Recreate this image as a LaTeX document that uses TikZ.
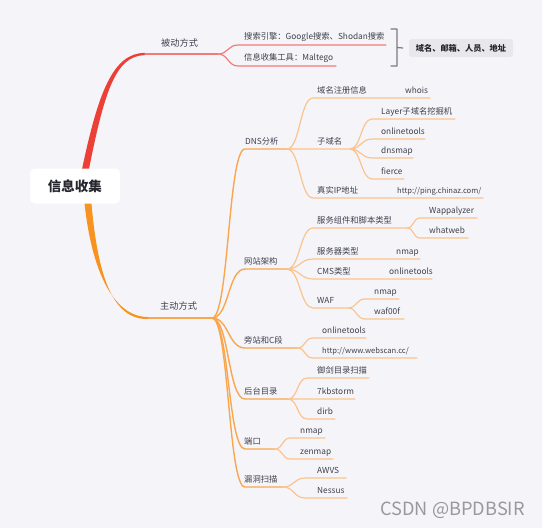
\documentclass[tikz,border=0pt]{standalone}
\usepackage{fontspec}
\setmainfont{Noto Sans CJK SC}
\usetikzlibrary{calc}
\definecolor{bg}{HTML}{F5F5F9}
\definecolor{ink}{HTML}{3F3F4E}
\definecolor{inkdark}{HTML}{26262F}
\definecolor{redtrk}{HTML}{EC3F35}
\definecolor{redln}{HTML}{F27B79}
\definecolor{ortrk}{HTML}{F7931E}
\definecolor{orln}{HTML}{F9A64F}
\definecolor{orlt}{HTML}{FBC38E}
\definecolor{sumfill}{HTML}{E7E7EC}
\definecolor{brk}{HTML}{7A7A80}
\tikzset{
  lbl/.style={anchor=base west, inner sep=0pt, text=ink},
  urllbl/.style={lbl, font=\fontsize{7.6}{9}\selectfont},
  lvone/.style={lbl, font=\fontsize{9.2}{11}\selectfont},
  pasln/.style={draw=redln, line width=1.4pt},
  lvtwo/.style={draw=orln, line width=1.4pt},
  lvthree/.style={draw=orlt, line width=1.2pt},
  link/.style={to path={.. controls +(#1,0) and +(-#1,0) .. (\tikztotarget)}},
  link/.default=12,
  rootbox/.style={fill=white, rounded corners=5pt, minimum width=90pt, minimum height=35pt, inner sep=0pt,
    text=inkdark, font=\bfseries\fontsize{13.5}{16}\selectfont},
  sumbox/.style={fill=sumfill, rounded corners=3pt, minimum width=104pt, minimum height=18pt, inner sep=0pt,
    text=inkdark, font=\bfseries\fontsize{8.2}{10}\selectfont}
}
\begin{document}
\begin{tikzpicture}[x=1pt,y=-1pt,line join=round,line cap=round,font=\fontsize{8.3}{10}\selectfont]
\fill[bg] (0,0) rectangle (542,528);
\useasboundingbox (0,0) rectangle (542,528);
\coordinate (rc) at (75,186);
% passive side
\coordinate (pas-a) at (145,54); \coordinate (pas-b) at (218,54);
\coordinate (se-a) at (238,45); \coordinate (se-b) at (386,45);
\coordinate (mt-a) at (238,66); \coordinate (mt-b) at (336,66);
\fill[redtrk] ($(rc)+(6,-12)$) .. controls (98,92) and (113,52.9) .. ($(pas-a)+(0,-1.1)$)
  -- ($(pas-a)+(0,1.1)$) .. controls (115,55.5) and (104,93) .. ($(rc)+(13,-12)$) -- cycle;
\draw[pasln] (pas-a) -- (pas-b);
\draw[pasln,line width=1.2pt] (pas-b) to[link=10] (se-a) -- (se-b)
  (pas-b) to[link=10] (mt-a) -- (mt-b);
\node[lvone] (pas) at (161,46) {被动方式};
\node[lbl] (se) at (244,39.5) {搜索引擎：Google搜索、Shodan搜索};
\node[lbl] (mt) at (244,60.5) {信息收集工具：Maltego};
\node[sumbox] (sum) at (461,48) {域名、邮箱、人员、地址};
\draw[brk,line width=1.2pt] (391,29) -| (397,66) -- (391,66)
  (397,47.5) -- ($(sum.west)+(-6,0)$);
% active side
\coordinate (act-a) at (148,318); \coordinate (act-b) at (212,318);
\fill[ortrk] ($(rc)+(9,12)$) .. controls (91,272) and (114,317.1) .. ($(act-a)+(0,-1)$)
  -- ($(act-a)+(0,1)$) .. controls (111,320) and (97,272) .. ($(rc)+(16,12)$) -- cycle;
\draw[lvtwo] (act-a) -- (act-b);
\node[lvone] (act) at (160,309.5) {主动方式};
% DNS
\coordinate (dns-a) at (245,149); \coordinate (dns-b) at (287,149);
\draw[lvtwo] (act-b) to[link=17] (dns-a) -- (dns-b);
\node[lbl] (dns) at (245,144) {DNS分析};
\coordinate (reg-a) at (313,98); \coordinate (reg-b) at (430,98);
\coordinate (sub-a) at (313,149); \coordinate (sub-b) at (350,149);
\coordinate (ip-a) at (313,198); \coordinate (ip-b) at (483,198);
\draw[lvthree] (dns-b) to[link=13] (reg-a) -- (reg-b)
  (dns-b) to[link=13] (sub-a) -- (sub-b)
  (dns-b) to[link=13] (ip-a) -- (ip-b);
\node[lbl] (reg) at (317,93) {域名注册信息};
\node[lbl] (whois) at (405,93) {whois};
\node[lbl] (sub) at (317,144) {子域名};
\node[lbl] (ip) at (317,193) {真实IP地址};
\node[urllbl] (ping) at (397,193) {http://ping.chinaz.com/};
\coordinate (layer-a) at (372,119); \coordinate (layer-b) at (455,119);
\coordinate (ota-a) at (372,139); \coordinate (ota-b) at (425,139);
\coordinate (dnsmap-a) at (372,158); \coordinate (dnsmap-b) at (413,158);
\coordinate (fierce-a) at (372,179); \coordinate (fierce-b) at (404,179);
\draw[lvthree] (sub-b) to[link=11] (layer-a) -- (layer-b)
  (sub-b) to[link=11] (ota-a) -- (ota-b)
  (sub-b) to[link=11] (dnsmap-a) -- (dnsmap-b)
  (sub-b) to[link=11] (fierce-a) -- (fierce-b);
\node[lbl] (layer) at (381,114) {Layer子域名挖掘机};
\node[lbl] (ota) at (381,134) {onlinetools};
\node[lbl] (dnsmap) at (381,153) {dnsmap};
\node[lbl] (fierce) at (381,174) {fierce};
% site architecture
\coordinate (arch-a) at (245,269); \coordinate (arch-b) at (287,269);
\draw[lvtwo] (act-b) to[link=17] (arch-a) -- (arch-b);
\node[lbl] (arch) at (244,264) {网站架构};
\coordinate (svc-a) at (313,228); \coordinate (svc-b) at (407,228);
\coordinate (srv-a) at (313,259); \coordinate (srv-b) at (420,259);
\coordinate (cms-a) at (313,279); \coordinate (cms-b) at (432,279);
\coordinate (waf-a) at (313,308); \coordinate (waf-b) at (348,308);
\draw[lvthree] (arch-b) to[link=13] (svc-a) -- (svc-b)
  (arch-b) to[link=13] (srv-a) -- (srv-b)
  (arch-b) to[link=13] (cms-a) -- (cms-b)
  (arch-b) to[link=13] (waf-a) -- (waf-b);
\node[lbl] (svc) at (317,223) {服务组件和脚本类型};
\node[lbl] (srv) at (317,254) {服务器类型};
\node[lbl] (srvnmap) at (396,254) {nmap};
\node[lbl] (cms) at (317,274) {CMS类型};
\node[lbl] (cmsot) at (389,274) {onlinetools};
\node[lbl] (waf) at (317,303) {WAF};
\coordinate (wapp-a) at (420,218); \coordinate (wapp-b) at (477,218);
\coordinate (whatweb-a) at (420,238); \coordinate (whatweb-b) at (468,238);
\draw[lvthree] (svc-b) to[link=7] (wapp-a) -- (wapp-b)
  (svc-b) to[link=7] (whatweb-a) -- (whatweb-b);
\node[lbl] (wapp) at (429,213) {Wappalyzer};
\node[lbl] (whatweb) at (429,233) {whatweb};
\coordinate (wnmap-a) at (365,299); \coordinate (wnmap-b) at (399,299);
\coordinate (wafoof-a) at (365,319); \coordinate (wafoof-b) at (404,319);
\draw[lvthree] (waf-b) to[link=9] (wnmap-a) -- (wnmap-b)
  (waf-b) to[link=9] (wafoof-a) -- (wafoof-b);
\node[lbl] (wnmap) at (374,294) {nmap};
\node[lbl] (wafoof) at (374,314) {waf00f};
% side sites and C segment
\coordinate (side-a) at (245,348); \coordinate (side-b) at (297,348);
\draw[lvtwo] (act-b) to[link=17] (side-a) -- (side-b);
\node[lbl] (side) at (244,343) {旁站和C段};
\coordinate (otc-a) at (313,338); \coordinate (otc-b) at (366,338);
\coordinate (webscan-a) at (313,358); \coordinate (webscan-b) at (417,358);
\draw[lvthree] (side-b) to[link=9] (otc-a) -- (otc-b)
  (side-b) to[link=9] (webscan-a) -- (webscan-b);
\node[lbl] (otc) at (322,333) {onlinetools};
\node[urllbl] (webscan) at (322,353) {http://www.webscan.cc/};
% admin directory
\coordinate (back-a) at (245,399); \coordinate (back-b) at (288,399);
\draw[lvtwo] (act-b) to[link=17] (back-a) -- (back-b);
\node[lbl] (back) at (244,394) {后台目录};
\coordinate (yj-a) at (307,378); \coordinate (yj-b) at (369,378);
\coordinate (kb-a) at (307,399); \coordinate (kb-b) at (355,399);
\coordinate (dirb-a) at (307,419); \coordinate (dirb-b) at (335,419);
\draw[lvthree] (back-b) to[link=10] (yj-a) -- (yj-b)
  (back-b) to[link=10] (kb-a) -- (kb-b)
  (back-b) to[link=10] (dirb-a) -- (dirb-b);
\node[lbl] (yj) at (317,373) {御剑目录扫描};
\node[lbl] (kb) at (317,394) {7kbstorm};
\node[lbl] (dirb) at (317,414) {dirb};
% ports
\coordinate (port-a) at (245,449); \coordinate (port-b) at (275,449);
\draw[lvtwo] (act-b) to[link=17] (port-a) -- (port-b);
\node[lbl] (port) at (244,444) {端口};
\coordinate (pnmap-a) at (290,438); \coordinate (pnmap-b) at (325,438);
\coordinate (zen-a) at (290,459); \coordinate (zen-b) at (333,459);
\draw[lvthree] (port-b) to[link=8] (pnmap-a) -- (pnmap-b)
  (port-b) to[link=8] (zen-a) -- (zen-b);
\node[lbl] (pnmap) at (300,433) {nmap};
\node[lbl] (zen) at (300,454) {zenmap};
% vulnerability scan
\coordinate (vuln-a) at (245,487); \coordinate (vuln-b) at (283,487);
\draw[lvtwo] (act-b) to[link=17] (vuln-a) -- (vuln-b);
\node[lbl] (vuln) at (244,482) {漏洞扫描};
\coordinate (awvs-a) at (305,478); \coordinate (awvs-b) at (346,478);
\coordinate (nessus-a) at (305,498); \coordinate (nessus-b) at (347,498);
\draw[lvthree] (vuln-b) to[link=11] (awvs-a) -- (awvs-b)
  (vuln-b) to[link=11] (nessus-a) -- (nessus-b);
\node[lbl] (awvs) at (317,473) {AWVS};
\node[lbl] (nessus) at (317,493) {Nessus};
% root and watermark
\node[rootbox] (root) at (rc) {信息收集};
\node[text=black!40, font=\fontsize{18.2}{21}\selectfont, anchor=base east, inner sep=0pt] (wm) at (525,515.5) {CSDN @BPDBSIR};
\end{tikzpicture}
\end{document}
